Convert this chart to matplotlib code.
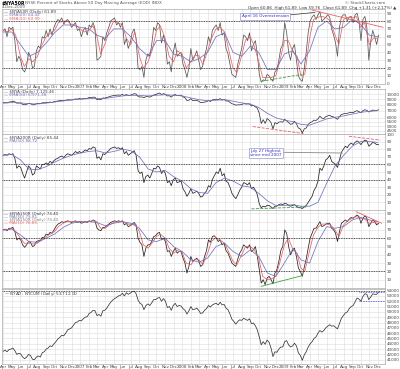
import numpy as np
import pandas as pd
import matplotlib
matplotlib.use("Agg")
import matplotlib.pyplot as plt
import matplotlib.dates as mdates

# ---------------- data ----------------
week_start, week_end = "2006-03-31", "2009-12-04"

nya50r = [68, 70, 60, 72, 70, 72, 55, 28, 35, 30, 18, 15, 22, 40, 35, 20, 22, 42, 48, 45,
          60, 58, 68, 60, 70, 62, 72, 78, 82, 80, 84, 76, 80, 82, 78, 72, 75, 78, 68, 70,
          60, 68, 72, 62, 75, 72, 78, 70, 30, 32, 35, 60, 55, 65, 72, 80, 82, 84, 75, 78,
          72, 78, 50, 58, 45, 52, 65, 70, 58, 20, 18, 22, 8, 30, 38, 35, 50, 72, 68, 78,
          75, 52, 62, 50, 25, 28, 15, 40, 52, 35, 38, 40,
          25, 18, 8, 20, 45, 30, 35, 42, 30, 18, 22, 35, 45, 60, 52, 68, 72, 75, 68, 78,
          62, 65, 45, 38, 25, 12, 10, 8, 25, 35, 45, 62, 60, 55, 65, 42, 50, 55, 38, 12,
          2, 5, 4, 12, 10, 6, 3, 15, 18, 30, 45, 50,
          78, 65, 40, 30, 45, 50, 30, 10, 5, 3, 20, 40, 65, 80, 85, 88, 82, 88, 92, 80,
          82, 85, 88, 85, 70, 62, 52, 35, 72, 85, 88, 88, 80, 85, 86, 78, 88, 90, 80, 55,
          82, 86, 72, 30, 55, 68, 60, 50, 62]
nya50r_ema_slow = [66, 66, 50, 35, 40, 52, 65, 75, 75,
                   72, 70, 62, 58, 70, 70, 60, 45, 35, 55, 55, 38,
                   35, 28, 32, 40, 60, 65, 40, 35, 48, 40, 18, 18,
                   38, 42, 25, 42, 72, 80, 70, 72, 82, 76, 62, 60]
nya50r_ema_fast = [68, 66, 70, 62, 35, 22, 32, 28, 35, 48, 60, 64, 68, 78, 80, 80, 76, 75,
                   70, 66, 68, 74, 62, 38, 52, 68, 80, 78, 75, 58, 50, 66, 35, 20, 28, 42, 68, 74, 58, 35, 28, 42,
                   38, 20, 28, 36, 36, 24, 42, 58, 70, 72, 66, 44, 20, 14, 36, 56, 60, 48, 28, 8, 8, 8, 10, 28,
                   55, 55, 40, 35, 10, 12, 58, 82, 85, 86, 84, 80, 62, 50, 82, 85, 84, 86, 72, 78, 50, 58, 58]

nya = [8300, 8350, 8300, 8450, 8480, 8620, 8500, 8250, 8280, 8270, 8020, 7960, 8040, 8200, 8180, 7950,
       7980, 8150, 8200, 8150, 8320, 8300, 8420, 8380, 8450, 8380, 8500, 8580, 8650, 8720, 8750, 8700,
       8800, 8880, 8850, 8850, 8920, 9050, 9000, 9140,
       9000, 9120, 9150, 9150, 9350, 9300, 9400, 9380, 8900, 9000, 8880, 9250, 9200, 9350, 9450, 9600,
       9700, 9780, 9800, 9850, 9800, 9980, 9750, 9950, 9750, 9800, 9950, 10150, 10050, 9550, 9420, 9450,
       9300, 9500, 9550, 9400, 9600, 9850, 9950, 10150, 10300, 9950, 10150, 10000, 9650, 9700, 9400, 9800,
       9950, 9700, 9800, 9800,
       9450, 9300, 8750, 8800, 9100, 8700, 8750, 8800, 8600, 8350, 8350, 8450, 8500, 8750, 8550, 8850,
       8900, 9000, 8900, 9100, 8800, 8950, 8650, 8650, 8400, 8150, 8050, 7900, 7950, 7950, 8000, 8150,
       8100, 8100, 8100, 7750, 7850, 7600, 7400, 6600, 5300, 5750, 5300, 5900, 5700, 5400, 4700, 5400,
       5250, 5450, 5500, 5450,
       5800, 5600, 5400, 5200, 5250, 5550, 5250, 4800, 4700, 4300, 4700, 4800, 5200, 5400, 5500, 5700,
       5650, 5850, 6200, 5950, 5900, 6150, 6250, 6350, 6150, 6120, 5950, 5800, 6150, 6450, 6530, 6600,
       6600, 6700, 6750, 6700, 6900, 7000, 6850, 6700, 7000, 7150, 7050, 6800, 6950, 7100, 7050, 7000, 7150]
nya_ema = [8250, 8350, 8300, 8150, 8100, 8250, 8450, 8650, 8850,
           9000, 9100, 9150, 9150, 9400, 9650, 9800, 9750, 9650, 9800, 9900, 9800,
           9650, 9250, 8900, 8700, 8800, 8900, 8600, 8300, 8100, 7500, 6600, 6000,
           5700, 5500, 5200, 5100, 5450, 5850, 6050, 6250, 6500, 6750, 6900, 7000]

nya200r = [72, 73, 72, 74, 73, 74, 68, 55, 58, 56, 48, 42, 50, 58, 55, 46, 48, 58, 56, 54,
           60, 60, 62, 60, 64, 62, 65, 67, 68, 70, 71, 69, 72, 74, 73, 72, 74, 77, 75, 77,
           75, 77, 79, 78, 81, 80, 83, 82, 68, 70, 66, 74, 73, 76, 78, 81, 82, 83, 81, 82,
           80, 82, 74, 77, 72, 74, 76, 78, 72, 52, 48, 50, 36, 44, 46, 42, 48, 55, 54, 58,
           56, 48, 52, 48, 36, 38, 32, 40, 42, 36, 37, 38,
           28, 24, 18, 22, 28, 22, 23, 25, 22, 17, 18, 22, 25, 32, 30, 40, 45, 50, 48, 55,
           45, 48, 38, 36, 30, 22, 18, 15, 20, 26, 30, 36, 35, 33, 36, 28, 30, 26, 20, 8,
           3, 5, 4, 6, 6, 4, 2, 5, 5, 7, 8, 7,
           9, 8, 6, 5, 6, 7, 5, 3, 3, 2, 4, 6, 10, 14, 18, 26, 30, 38, 55, 52,
           58, 66, 68, 72, 64, 62, 60, 56, 66, 76, 80, 84, 82, 86, 88, 86, 89, 91, 89, 86,
           90, 92, 91, 84, 86, 89, 88, 86, 86]
nya200r_ma = [72, 73, 66, 54, 53, 57, 63, 68, 72,
              75, 77, 78, 75, 77, 80, 78, 70, 54, 50, 52, 44,
              38, 28, 23, 22, 36, 42, 38, 32, 30, 22, 12, 6,
              6, 7, 5, 5, 10, 35, 58, 72, 84, 90, 90, 89]

osc = [70, 71, 69, 72, 72, 73, 68, 58, 60, 58, 52, 49, 52, 56, 55, 50, 51, 56, 57, 57,
       61, 61, 65, 64, 67, 66, 70, 74, 77, 78, 80, 79, 80, 81, 80, 79, 80, 81, 79, 80,
       78, 79, 80, 79, 81, 80, 82, 81, 72, 70, 69, 73, 73, 75, 77, 79, 80, 81, 80, 81,
       80, 81, 76, 78, 74, 75, 77, 79, 76, 60, 55, 52, 38, 48, 52, 52, 56, 62, 63, 66,
       67, 58, 60, 56, 44, 45, 38, 44, 48, 42, 44, 44,
       36, 30, 18, 26, 38, 32, 34, 36, 33, 26, 28, 38, 45, 58, 55, 62, 63, 60, 56, 58,
       52, 54, 45, 42, 36, 30, 28, 26, 35, 42, 46, 52, 50, 48, 52, 44, 46, 50, 38, 22,
       6, 10, 4, 12, 14, 10, 5, 18, 22, 32, 45, 50,
       70, 66, 50, 40, 45, 48, 38, 24, 20, 14, 25, 35, 48, 60, 66, 72, 72, 76, 80, 74,
       75, 77, 78, 78, 72, 70, 66, 56, 68, 78, 80, 82, 80, 83, 85, 84, 86, 88, 86, 78,
       84, 87, 84, 74, 78, 82, 80, 76, 78]
osc_ma_fast = [70, 70, 72, 68, 60, 54, 54, 53, 54, 58, 62, 65, 68, 74, 78, 80, 80, 80,
               80, 79, 80, 81, 80, 72, 72, 76, 79, 80, 80, 78, 76, 77, 68, 52, 48, 54, 62, 65, 60, 48, 42, 45,
               43, 30, 28, 34, 34, 28, 42, 56, 61, 58, 54, 44, 32, 28, 40, 50, 50, 46, 36, 14, 10, 11, 14, 30,
               52, 60, 46, 42, 24, 20, 45, 64, 73, 77, 77, 76, 70, 62, 76, 81, 84, 86, 84, 83, 78, 79, 78]
osc_ma_slow = [70, 71, 64, 56, 55, 60, 65, 73, 78,
               80, 80, 79, 75, 78, 80, 78, 72, 58, 56, 60, 50,
               44, 34, 31, 36, 50, 54, 44, 38, 46, 38, 18, 14,
               30, 48, 34, 30, 56, 74, 72, 74, 82, 85, 82, 80]

adline = [42600, 42800, 42500, 42900, 43000, 43200, 42700, 42000, 42200, 42100, 41500, 41200, 41500,
          42000, 41800, 41100, 41000, 41500, 41700, 41500, 42300, 42500, 43000, 43200, 43600, 43500,
          44000, 44400, 44900, 45200, 45600, 45500, 46000, 46600, 46800, 47000, 47500, 48000, 48100, 48400,
          48300, 48700, 49000, 49100, 49700, 49900, 50300, 50200, 49300, 49500, 49200, 50200, 50300, 50700,
          51300, 51800, 52200, 52500, 52700, 53000, 53100, 53500, 53000, 53600, 53300, 53500, 53800, 53900,
          53400, 52200, 51600, 51400, 50400, 51200, 51500, 51200, 51700, 52300, 52300, 52600, 52700, 52000,
          52500, 52000, 50800, 51000, 50300, 51200, 51600, 51000, 51200, 51100,
          50600, 50300, 49600, 50200, 51000, 50400, 50500, 50700, 50300, 49700, 49800, 50300, 50600, 51200,
          50900, 51300, 51500, 51600, 51300, 51800, 51300, 51400, 50700, 50400, 49600, 48600, 48200, 47700,
          48200, 48500, 48400, 48800, 48600, 48400, 48700, 47800, 47900, 47400, 46600, 45300, 43800, 44400,
          43900, 44700, 44300, 43200, 41600, 42500, 42400, 43000, 43400, 43400,
          44400, 44600, 43800, 43400, 43600, 44100, 43600, 42300, 41800, 40900, 41900, 42500, 43400, 44000,
          44400, 45000, 45300, 46000, 46500, 46200, 46500, 47000, 47300, 47600, 47300, 47400, 47100, 46800,
          47800, 48800, 49300, 49800, 50000, 50600, 51000, 51200, 51900, 52600, 52400, 52000, 52900, 53400,
          53300, 52300, 52800, 53400, 53300, 53300, 53700]

p1_ticks = [0, 10, 20, 30, 40, 50, 60, 70, 80, 90]
p2_ticks = [4500, 5000, 5500, 6000, 7000, 8000, 9000, 10000]
p3_ticks = [10, 20, 30, 40, 50, 60, 70, 80, 90, 100]
p4_ticks = [10, 20, 30, 40, 50, 60, 70, 80, 90]
p5_ticks = list(range(41000, 54001, 1000))

# trend / annotation lines (date, value)
p1_red = [("2009-04-10", 94), ("2009-12-20", 72)]
p1_green = [("2008-10-10", 3), ("2009-03-06", 12)]
p2_red = [("2008-09-10", 4950), ("2009-03-10", 4250)]
p3_red = [("2009-08-20", 97), ("2009-12-10", 92)]
p3_green = [("2008-09-05", 1.5), ("2009-03-20", 4)]
p4_red = [("2009-09-15", 92), ("2009-12-15", 78)]
p4_green = [("2008-10-10", 2), ("2009-03-06", 15)]
p5_top = 53900
p5_band = [53800, 52100]

# ---------------- build ----------------
weeks = pd.date_range(week_start, week_end, freq="W-FRI")
months = pd.date_range("2006-04-01", "2009-12-01", freq="MS")
semi = sorted(list(months) + [m + pd.Timedelta(days=14) for m in months[:-1]])
for s in (nya50r, nya, nya200r, osc, adline):
    assert len(s) == len(weeks), len(s)

W, H = 400, 369
fig = plt.figure(figsize=(W / 100, H / 100), dpi=100)
fig.patch.set_facecolor("white")

def rect(top, bottom):
    return [2 / W, 1 - bottom / H, (385 - 2) / W, (bottom - top) / H]

xl = (pd.Timestamp("2006-03-27"), pd.Timestamp("2009-12-27"))
grid_c = "#dcdcdc"
FS = 3.0
blue = "#7070c0"
red = "#f06060"

def style(ax, ticks, ylim, log=False):
    if log:
        ax.set_yscale("log")
    ax.set_ylim(*ylim)
    ax.set_xlim(*xl)
    ax.yaxis.tick_right()
    ax.set_yticks(ticks)
    ax.set_yticklabels([str(t) for t in ticks])
    ax.yaxis.set_minor_locator(matplotlib.ticker.NullLocator())
    ax.tick_params(axis="y", length=0, labelsize=FS, pad=1.5, colors="#444444")
    ax.xaxis.set_major_locator(mdates.MonthLocator())
    ax.tick_params(axis="x", length=0, labelsize=FS, pad=1.0, colors="#444444")
    ax.grid(True, color=grid_c, lw=0.4)
    for sp in ax.spines.values():
        sp.set_color("#aaaaaa")
        sp.set_linewidth(0.5)
    ax.set_axisbelow(True)

def month_fmt(x, pos=None):
    d = mdates.num2date(x)
    return str(d.year) if d.month == 1 else d.strftime("%b")

def dl(ax, pts, color, ls="--", lw=0.6):
    ax.plot([pd.Timestamp(p[0]) for p in pts], [p[1] for p in pts], color=color, ls=ls, lw=lw)

def legend(ax, items, top_px):
    for i, (txt, c) in enumerate(items):
        ax.text(0.004, 1 - (top_px + i * 3.0) / (ax.bbox.height), "\u2014 " + txt, transform=ax.transAxes,
                fontsize=FS, color=c, va="top", ha="left")

# Panel 1
ax1 = fig.add_axes(rect(9, 84))
style(ax1, p1_ticks, (-0.4, 95.4))
ax1.plot(weeks, nya50r, color="#555555", lw=0.55)
ax1.plot(semi, nya50r_ema_fast, color=red, lw=0.55)
ax1.plot(months, nya50r_ema_slow, color=blue, lw=0.55)
for v in (80, 20):
    ax1.axhline(v, color="#222222", ls=(0, (1, 1)), lw=0.6)
dl(ax1, p1_red, red, ls="-")
dl(ax1, p1_green, "#40a040")
ax1.xaxis.set_major_formatter(matplotlib.ticker.FuncFormatter(month_fmt))
legend(ax1, [("$NYA50R (Daily) 61.89", "#444444"), ("EMA(20) 64.43", blue), ("EMA(10) 60.99", red)], 1.5)
ax1.text(pd.Timestamp("2008-08-01"), 86, "April 16 Overextension", fontsize=FS, color="#3030c0",
         va="center", ha="left", bbox=dict(boxstyle="square,pad=0.3", fc="white", ec="#8080c0", lw=0.4))
ax1.plot([pd.Timestamp("2008-12-25"), pd.Timestamp("2009-04-20")], [87, 91], color="#333333", lw=0.5)

# Panel 2
ax2 = fig.add_axes(rect(89, 134))
style(ax2, p2_ticks, (4210, 11230), log=True)
ax2.plot(weeks, nya, color="#222222", lw=0.5)
ax2.plot(months, nya_ema, color=blue, lw=0.55)
dl(ax2, p2_red, red)
ax2.set_xticklabels([])
legend(ax2, [("$NYA (Daily) 7,125.46", "#444444"), ("EMA(50) 6,971.38", blue)], 1.0)

# Panel 3
ax3 = fig.add_axes(rect(134, 210))
style(ax3, p3_ticks, (0, 100))
ax3.plot(weeks, nya200r, color="#222222", lw=0.55)
ax3.plot(months, nya200r_ma, color=blue, lw=0.55)
for v in (60, 40):
    ax3.axhline(v, color="#222222", ls=(0, (1, 1)), lw=0.6)
dl(ax3, p3_red, red)
dl(ax3, p3_green, "#40a040")
ax3.set_xticklabels([])
legend(ax3, [("$NYA200R (Daily) 85.44", "#444444"), ("MA(50) 88.72", blue)], 1.5)
ax3.text(pd.Timestamp("2008-09-01"), 75, "July 27 Highest\nsince mid 2007", fontsize=FS, color="#3030c0",
         va="center", ha="left", linespacing=1.1,
         bbox=dict(boxstyle="square,pad=0.3", fc="white", ec="#8080c0", lw=0.4))
ax3.plot([pd.Timestamp("2008-12-10"), pd.Timestamp("2009-07-27")], [76, 75], color="#888888", lw=0.6)

# Panel 4
ax4 = fig.add_axes(rect(210, 288))
style(ax4, p4_ticks, (0, 94))
ax4.plot(weeks, osc, color="#222222", lw=0.55)
ax4.plot(semi, osc_ma_fast, color=red, lw=0.55)
ax4.plot(months, osc_ma_slow, color=blue, lw=0.55)
for v in (60, 20):
    ax4.axhline(v, color="#222222", ls=(0, (1, 1)), lw=0.6)
dl(ax4, p4_red, red, ls="-")
dl(ax4, p4_green, "#40a040", ls="-")
ax4.set_xticklabels([])
legend(ax4, [("$NYA150R (Daily) 74.40", "#444444"), ("MA(50) 75.81", blue),
             ("$NYA150R (Daily) 74.40", "#888888"), ("MA(10) 76.80", red)], 1.5)

# Panel 5
ax5 = fig.add_axes(rect(289, 364))
style(ax5, p5_ticks, (40200, 54300))
ax5.plot(weeks, adline, color="#333333", lw=0.55)
ax5.axhline(p5_top, color="#222222", ls=(0, (1, 1)), lw=0.6)
for v in p5_band:
    ax5.plot([pd.Timestamp("2009-09-25"), xl[1]], [v, v], color="#5050e0", ls=(0, (1, 1)), lw=0.6)
ax5.xaxis.set_major_formatter(matplotlib.ticker.FuncFormatter(month_fmt))
legend(ax5, [("$NYAD:$NYCUM (Daily) 53,712.00", "#444444")], 0.8)

# header
fig.text(2 / W, 1 - 1 / H, "$NYA50R", fontsize=FS + 0.3, weight="bold", va="top", ha="left")
fig.text(25 / W, 1 - 1 / H, "NYSE Percent of Stocks Above 50 Day Moving Average (EOD) INDX",
         fontsize=FS, color="#555555", va="top", ha="left")
fig.text(2 / W, 1 - 5.5 / H, "4-Dec-2009", fontsize=FS, color="#555555", va="top", ha="left")
fig.text(385 / W, 1 - 1 / H, "\u00a9 StockCharts.com", fontsize=FS, color="#555555", va="top", ha="right")
fig.text(396 / W, 1 - 5.5 / H, "Open 60.86  High 61.89  Low 59.76  Close 61.89  Chg +1.31 (+2.17%) \u25b2",
         fontsize=FS, color="#333333", va="top", ha="right")

fig.savefig("out.png", dpi=100, facecolor="white")
